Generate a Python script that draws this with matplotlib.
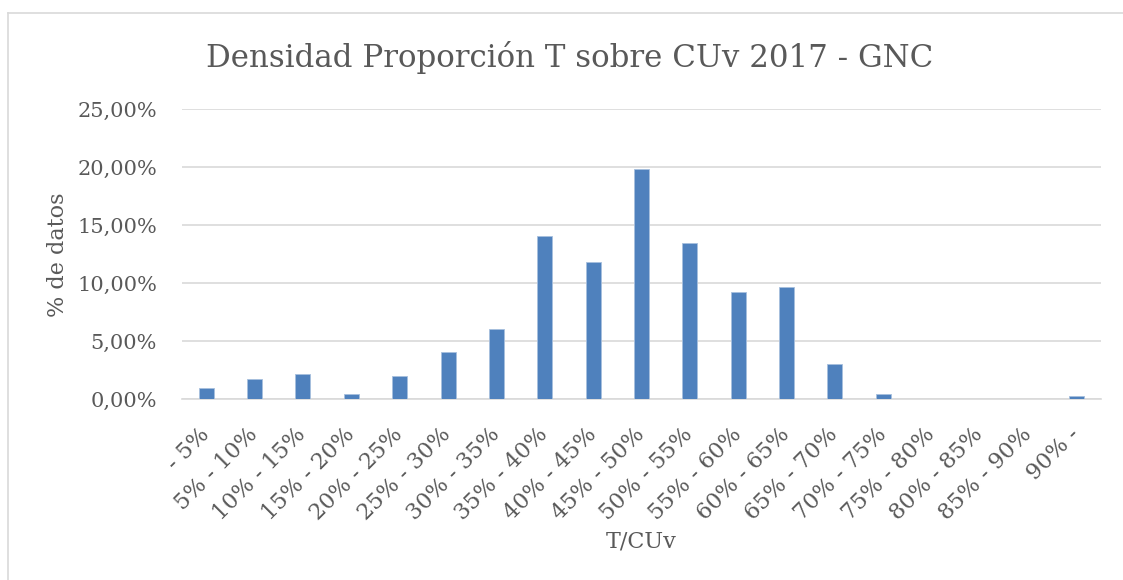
import matplotlib
matplotlib.use("Agg")
import matplotlib.pyplot as plt
import matplotlib.transforms as mtransforms
from matplotlib.lines import Line2D
from matplotlib.ticker import FuncFormatter

FONT = "DejaVu Serif"
BAR = "#4F81BD"
GRID = "#D9D9D9"
TEXT = "#595959"

CATEGORIES = [
    "- 5%", "5% - 10%", "10% - 15%", "15% - 20%", "20% - 25%", "25% - 30%",
    "30% - 35%", "35% - 40%", "40% - 45%", "45% - 50%", "50% - 55%",
    "55% - 60%", "60% - 65%", "65% - 70%", "70% - 75%", "75% - 80%",
    "80% - 85%", "85% - 90%", "90% -",
]
# share of data per bin (fraction)
SHARE = [
    0.0100, 0.0172, 0.0215, 0.0043, 0.0200, 0.0404,
    0.0604, 0.1403, 0.1186, 0.1985, 0.1345,
    0.0924, 0.0967, 0.0303, 0.0045, 0.0,
    0.0, 0.0, 0.0026,
]
Y_TICKS = [0, 0.05, 0.10, 0.15, 0.20, 0.25]

W, H = 1123, 580
fig = plt.figure(figsize=(W / 100, H / 100), dpi=100)
fig.patch.set_facecolor("white")

# chart frame: only top and left edges fall inside the picture
fx, fy = 7.5 / W, 1 - 12.7 / H
fig.add_artist(Line2D([fx, 1.01], [fy, fy], transform=fig.transFigure, color=GRID, linewidth=1.2))
fig.add_artist(Line2D([fx, fx], [-0.01, fy], transform=fig.transFigure, color=GRID, linewidth=1.2))

ax = fig.add_axes([182 / W, 1 - 399.3 / H, (1101 - 182) / W, (399.3 - 109) / H])
x = range(len(CATEGORIES))
ax.bar(x, SHARE, width=0.31, color=BAR, edgecolor="#A7BFDE", linewidth=0.6, zorder=3)

ax.set_xlim(-0.5, len(CATEGORIES) - 0.5)
ax.set_ylim(0, 0.25)
ax.set_yticks(Y_TICKS)
ax.yaxis.set_major_formatter(FuncFormatter(lambda v, _: f"{v * 100:.2f}%".replace(".", ",")))
ax.grid(axis="y", color=GRID, linewidth=1.2, zorder=0)
for side in ("top", "right", "left"):
    ax.spines[side].set_visible(False)
ax.spines["bottom"].set_color(GRID)
ax.spines["bottom"].set_linewidth(1.2)
ax.tick_params(axis="both", length=0, colors=TEXT, labelsize=15)
ax.tick_params(axis="y", pad=18)

ax.set_xticks(list(x))
ax.set_xticklabels(CATEGORIES, rotation=45, ha="right", va="top",
                   rotation_mode="anchor", fontfamily=FONT, color=TEXT, fontsize=16)
for lab in ax.get_yticklabels():
    lab.set_fontfamily(FONT)
ax.tick_params(axis="x", pad=19)
# nudge rotated labels left so their ends sit under the bars, as in the reference
shift = mtransforms.ScaledTranslation(-8 / 100, 2 / 100, fig.dpi_scale_trans)
for lab in ax.get_xticklabels():
    lab.set_transform(lab.get_transform() + shift)

fig.text(570 / W, 1 - 58 / H, "Densidad Proporción T sobre CUv 2017 - GNC",
         ha="center", va="center", fontsize=22.2, color=TEXT, fontfamily=FONT)
fig.text(641 / W, 1 - 541 / H, "T/CUv", ha="center", va="center",
         fontsize=16, color=TEXT, fontfamily=FONT)
fig.text(58 / W, 1 - 255 / H, "% de datos", ha="center", va="center",
         rotation=90, fontsize=16, color=TEXT, fontfamily=FONT)

fig.savefig("out.png", dpi=100, facecolor="white")
